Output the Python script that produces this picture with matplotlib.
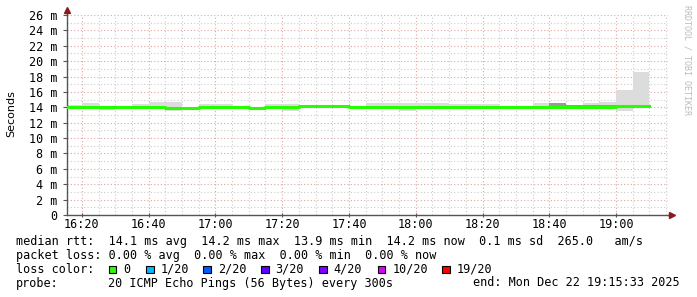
import numpy as np
import matplotlib.pyplot as plt

# 5-minute bins starting 16:15 (minutes since midnight)
bin_start = [975 + 5 * i for i in range(35)]
median_ms = [14.05, 14.1, 14.05, 14.1, 14.1, 14.1, 13.95, 13.95, 14.0, 14.0,
             14.05, 13.95, 14.05, 14.05, 14.15, 14.15, 14.15, 14.0, 14.1, 14.0,
             14.0, 14.0, 14.05, 14.05, 14.0, 14.0, 14.0, 14.0, 14.05, 14.1,
             14.1, 14.1, 14.1, 14.2, 14.2]
smoke_lo = [13.85, 13.9, 13.65, 14.0, 13.9, 13.9, 13.5, 13.85, 13.85, 13.85,
            13.95, 13.8, 13.9, 13.5, 14.0, 14.05, 14.05, 13.8, 13.9, 13.75,
            13.5, 13.85, 13.9, 13.9, 13.85, 13.85, 13.9, 13.75, 13.9, 13.9,
            14.0, 14.0, 14.0, 13.55, 14.0]
smoke_hi = [14.25, 14.5, 14.2, 14.2, 14.4, 14.65, 14.65, 14.1, 14.4, 14.4,
            14.15, 14.1, 14.4, 14.4, 14.3, 14.25, 14.25, 14.2, 14.5, 14.5,
            14.6, 14.6, 14.5, 14.4, 14.4, 14.4, 14.15, 14.15, 14.5, 14.6,
            14.35, 14.5, 14.7, 16.25, 18.6]
dense_lo = [14.0, 14.05, 13.95, 14.05, 14.05, 14.05, 13.85, 13.85, 13.95, 13.95,
            14.0, 13.85, 14.0, 14.0, 14.1, 14.1, 14.1, 13.85, 14.05, 13.8,
            13.95, 13.95, 14.0, 14.0, 13.95, 13.95, 13.95, 13.95, 14.0, 14.2,
            14.2, 14.2, 14.2, 14.15, 14.15]
dense_hi = [14.1, 14.15, 14.1, 14.15, 14.15, 14.15, 13.95, 13.95, 14.05, 14.05,
            14.1, 13.95, 14.1, 14.1, 14.2, 14.2, 14.2, 13.95, 14.15, 13.9,
            14.05, 14.05, 14.1, 14.1, 14.05, 14.05, 14.05, 14.05, 14.1, 14.5,
            14.3, 14.3, 14.3, 14.25, 14.25]

yticks = list(range(0, 27, 2))
ytick_labels = ["0"] + [f"{v} m" for v in yticks[1:]]
xticks = list(range(980, 1141, 20))

loss_names = ["0", "1/20", "2/20", "3/20", "4/20", "10/20", "19/20"]
loss_colors = ["#26ff00", "#00b8ff", "#0059ff", "#5e00ff", "#7e00ff", "#dd00ff", "#ff0000"]
loss_box_x = [108.7, 146, 203.3, 261, 319.3, 377.7, 442.3]

W, H = 697, 297
mono = "DejaVu Sans Mono"
fs = 8.5

fig = plt.figure(figsize=(W / 100, H / 100), dpi=100)
fig.patch.set_facecolor("white")
ax = fig.add_axes([67 / W, (H - 215) / H, (668 - 67) / W, 200 / H])
ax.set_xlim(975.55, 1155.55)
ax.set_ylim(0, 26)

# grid
for m in range(975, 1156, 5):
    if m < 975.55:
        continue
    c = "#e3a3a3" if m in xticks else "#cccccc"
    ax.axvline(m, color=c, lw=0.8, ls=(0, (1, 2)), zorder=0)
for v in range(1, 27):
    c = "#e3a3a3" if v % 2 == 0 else "#cccccc"
    ax.axhline(v, color=c, lw=0.8, ls=(0, (1, 2)), zorder=0)

# smoke
lo = np.array(smoke_lo)
hi = np.array(smoke_hi)
ax.bar(bin_start, hi - lo, bottom=lo, width=5, align="edge", color="#dcdcdc", lw=0, zorder=1)
dlo = np.array(dense_lo)
dhi = np.array(dense_hi)
ax.bar(bin_start, dhi - dlo, bottom=dlo, width=5, align="edge", color="#9a9a9a", lw=0, zorder=2)

# median line
xs = bin_start + [bin_start[-1] + 5]
ys = median_ms + [median_ms[-1]]
ax.step(xs, ys, where="post", color="#26ff00", lw=2.2, zorder=3)

# axes
for s in ["top", "right"]:
    ax.spines[s].set_visible(False)
for s in ["left", "bottom"]:
    ax.spines[s].set_color("#555555")
    ax.spines[s].set_linewidth(1.0)
ax.plot([975.55, 975.55], [26, 26.7], color="#555555", lw=1.0, clip_on=False)
ax.plot([975.55], [26.7], marker="^", color="#8b1a1a", ms=4, clip_on=False)
ax.plot([1155.55, 1156.8], [0, 0], color="#555555", lw=1.0, clip_on=False)
ax.plot([1156.8], [0], marker=">", color="#8b1a1a", ms=4, clip_on=False)

ax.set_yticks(yticks)
ax.set_yticklabels(ytick_labels, family=mono, fontsize=fs)
ax.set_xticks(xticks)
ax.set_xticklabels([f"{m // 60}:{m % 60:02d}" for m in xticks], family=mono, fontsize=fs)
ax.tick_params(axis="y", length=3, pad=4, color="#555555")
ax.tick_params(axis="x", length=3, pad=1, color="#555555", direction="inout")

fig.text(11 / W, 1 - 113.5 / H, "Seconds", rotation=90, ha="center", va="center",
         fontsize=8, family="DejaVu Sans")
fig.text(687 / W, 1 - 5 / H, "RRDTOOL / TOBI OETIKER", rotation=270, ha="center", va="top",
         fontsize=6, family=mono, color="#bbbbbb")

def ftext(x, y, s, **kw):
    fig.text(x / W, 1 - y / H, s, va="center", ha=kw.pop("ha", "left"),
             family=mono, fontsize=fs, **kw)

ftext(16, 241.5, "median rtt:  14.1 ms avg  14.2 ms max  13.9 ms min  14.2 ms now  0.1 ms sd  265.0   am/s")
ftext(16, 255.5, "packet loss: 0.00 % avg  0.00 % max  0.00 % min  0.00 % now")
ftext(16, 269.5, "loss color:")
for bx, name, col in zip(loss_box_x, loss_names, loss_colors):
    fig.patches.append(plt.Rectangle((bx / W, 1 - 273.2 / H), 7.5 / W, 7.5 / H, transform=fig.transFigure,
                                     facecolor=col, edgecolor="black", lw=0.8, figure=fig))
    ftext(bx + 14.5, 269.5, name)
ftext(16, 283, "probe:")
ftext(108, 283, "20 ICMP Echo Pings (56 Bytes) every 300s")
ftext(680, 283, "end: Mon Dec 22 19:15:33 2025", ha="right")

fig.savefig("out.png", dpi=100)
